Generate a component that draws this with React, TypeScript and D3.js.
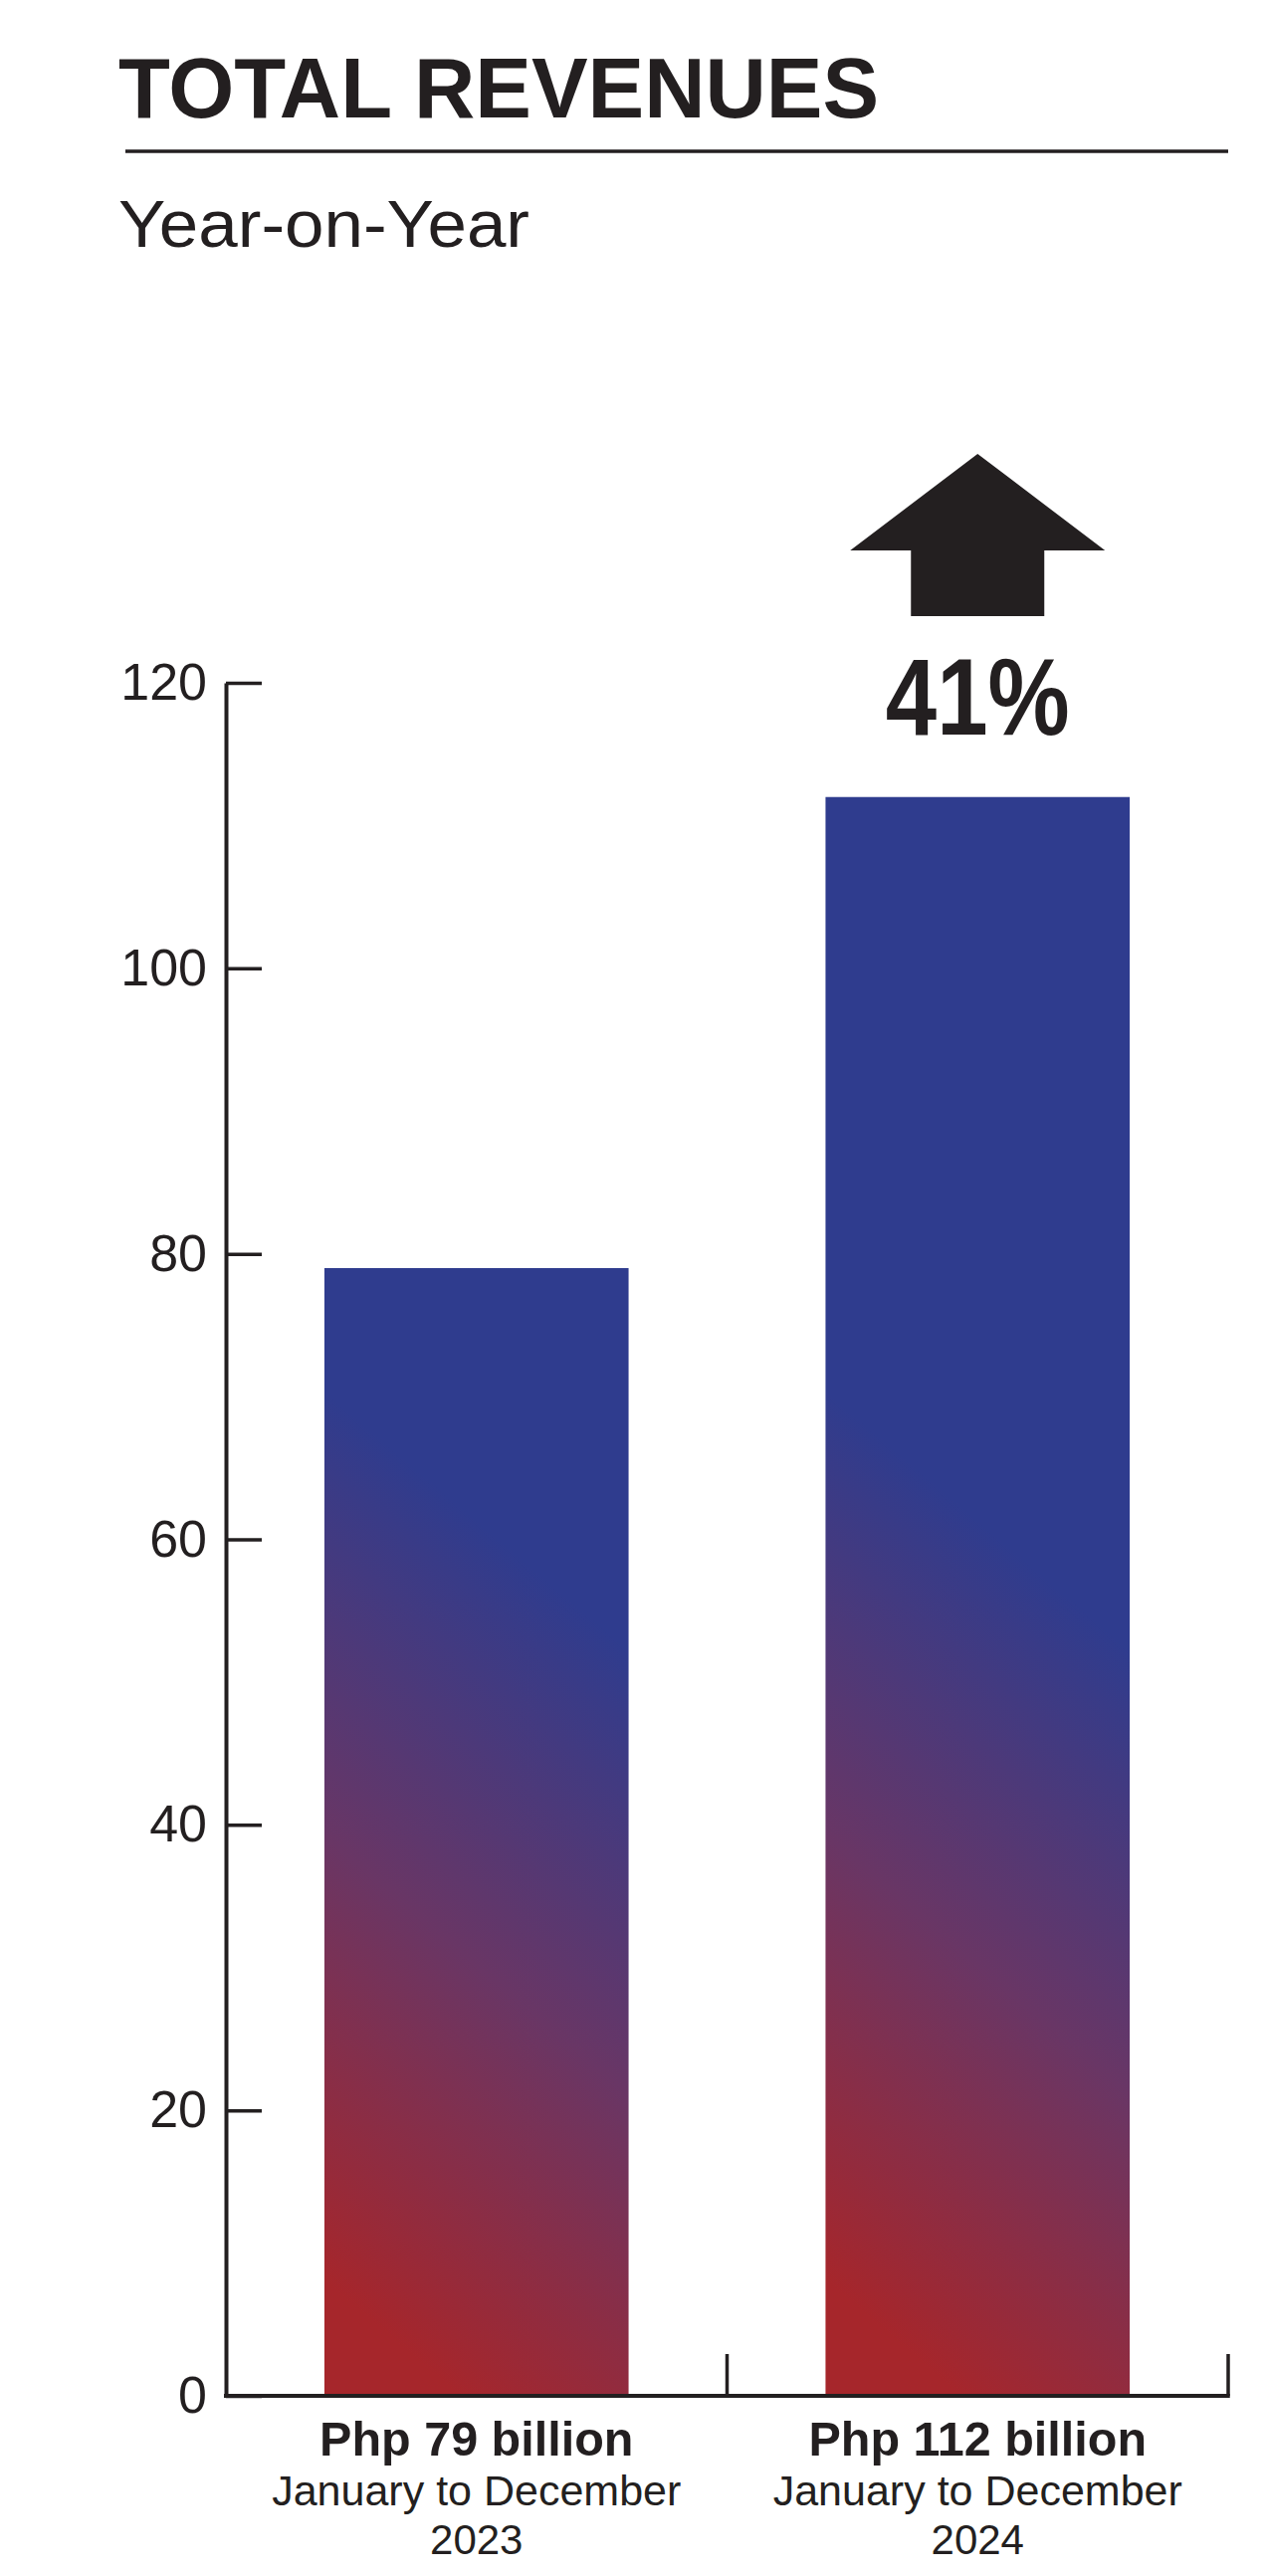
import React, { useEffect, useRef } from 'react';
import * as d3 from 'd3';

const categories = ['2023', '2024'];
const revenues = [79, 112];
const valueLabels = ['Php 79 billion', 'Php 112 billion'];
const periodLabels = ['January to December', 'January to December'];
const yearLabels = ['2023', '2024'];
const yTicks = [0, 20, 40, 60, 80, 100, 120];
const growthLabel = '41%';

const INK = '#231f20';
const FONT = '"Liberation Sans", Arial, Helvetica, sans-serif';

const App = () => {
  const ref = useRef<SVGSVGElement>(null);

  useEffect(() => {
    const svg = d3.select(ref.current);
    svg.selectAll('*').remove();
    svg.attr('font-family', FONT);

    // heading
    svg.append('text')
      .attr('x', 119).attr('y', 118)
      .attr('font-size', 86).attr('font-weight', 'bold')
      .attr('fill', INK)
      .attr('textLength', 764).attr('lengthAdjust', 'spacingAndGlyphs')
      .text('TOTAL REVENUES');

    svg.append('line')
      .attr('x1', 126).attr('x2', 1234)
      .attr('y1', 152).attr('y2', 152)
      .attr('stroke', INK).attr('stroke-width', 3.5);

    svg.append('text')
      .attr('x', 119).attr('y', 248)
      .attr('font-size', 67)
      .attr('fill', INK)
      .attr('textLength', 413).attr('lengthAdjust', 'spacingAndGlyphs')
      .text('Year-on-Year');

    const y = d3.scaleLinear().domain([0, 120]).range([2407, 686]);
    const x = d3.scaleBand().domain(categories).range([227, 1234]).padding(0);
    const barW = x.bandwidth() * 0.607;

    // gradients, red bottom-left to blue top-right
    const defs = svg.append('defs');
    categories.forEach((c, i) => {
      const bx = (x(c) as number) + (x.bandwidth() - barW) / 2;
      const gx = bx + barW * 0.1;
      const gy = y(0) - 90;
      const len = 680;
      const g = defs.append('linearGradient')
        .attr('id', `grad-${i}`)
        .attr('gradientUnits', 'userSpaceOnUse')
        .attr('x1', gx).attr('y1', gy)
        .attr('x2', gx + len * 0.648).attr('y2', gy - len * 0.762);
      g.append('stop').attr('offset', 0).attr('stop-color', '#a6262b');
      g.append('stop').attr('offset', 0.5).attr('stop-color', '#693665');
      g.append('stop').attr('offset', 1).attr('stop-color', '#2f3c8e');
    });

    // bars
    svg.append('g')
      .selectAll('rect')
      .data(revenues)
      .join('rect')
      .attr('x', (d, i) => (x(categories[i]) as number) + (x.bandwidth() - barW) / 2)
      .attr('y', (d) => y(d))
      .attr('width', barW)
      .attr('height', (d) => y(0) - y(d))
      .attr('fill', (d, i) => `url(#grad-${i})`);

    // y axis
    const yAxis = d3.axisLeft(y).tickValues(yTicks).tickSizeInner(-36).tickSizeOuter(0).tickPadding(19);
    const ga = svg.append('g').attr('transform', 'translate(227,0)').call(yAxis);
    ga.select('.domain').attr('stroke', INK).attr('stroke-width', 4);
    ga.selectAll('.tick line').attr('stroke', INK).attr('stroke-width', 3.5);
    ga.selectAll('.tick text')
      .attr('fill', INK)
      .attr('font-size', 52)
      .attr('font-family', FONT);

    // x axis with ticks at band edges
    svg.append('line')
      .attr('x1', 225).attr('x2', 1234 + 1.75)
      .attr('y1', y(0)).attr('y2', y(0))
      .attr('stroke', INK).attr('stroke-width', 4);
    svg.append('g')
      .selectAll('line')
      .data(categories)
      .join('line')
      .attr('x1', (c) => (x(c) as number) + x.bandwidth())
      .attr('x2', (c) => (x(c) as number) + x.bandwidth())
      .attr('y1', y(0))
      .attr('y2', y(0) - 42)
      .attr('stroke', INK).attr('stroke-width', 3.5);

    // growth arrow over the second bar
    const cx = (x(categories[1]) as number) + x.bandwidth() / 2;
    svg.append('path')
      .attr('d', `M${cx},456 L${cx + 128},553 L${cx + 67},553 L${cx + 67},619 L${cx - 67},619 L${cx - 67},553 L${cx - 128},553 Z`)
      .attr('fill', INK);
    svg.append('text')
      .attr('x', cx).attr('y', 738)
      .attr('text-anchor', 'middle')
      .attr('font-size', 110).attr('font-weight', 'bold')
      .attr('fill', INK)
      .attr('textLength', 185).attr('lengthAdjust', 'spacingAndGlyphs')
      .text(growthLabel);

    // category labels
    const lab = svg.append('g').attr('text-anchor', 'middle').attr('fill', INK);
    categories.forEach((c, i) => {
      const mx = (x(c) as number) + x.bandwidth() / 2;
      lab.append('text').attr('x', mx).attr('y', 2467)
        .attr('font-size', 48.5).attr('font-weight', 'bold').text(valueLabels[i]);
      lab.append('text').attr('x', mx).attr('y', 2517)
        .attr('font-size', 43).text(periodLabels[i]);
      lab.append('text').attr('x', mx).attr('y', 2566)
        .attr('font-size', 42).text(yearLabels[i]);
    });
  }, []);

  return (
    <svg
      ref={ref}
      width={1272}
      height={2588}
      style={{ position: 'absolute', left: 0, top: 0, background: '#fff' }}
    />
  );
};

export default App;
